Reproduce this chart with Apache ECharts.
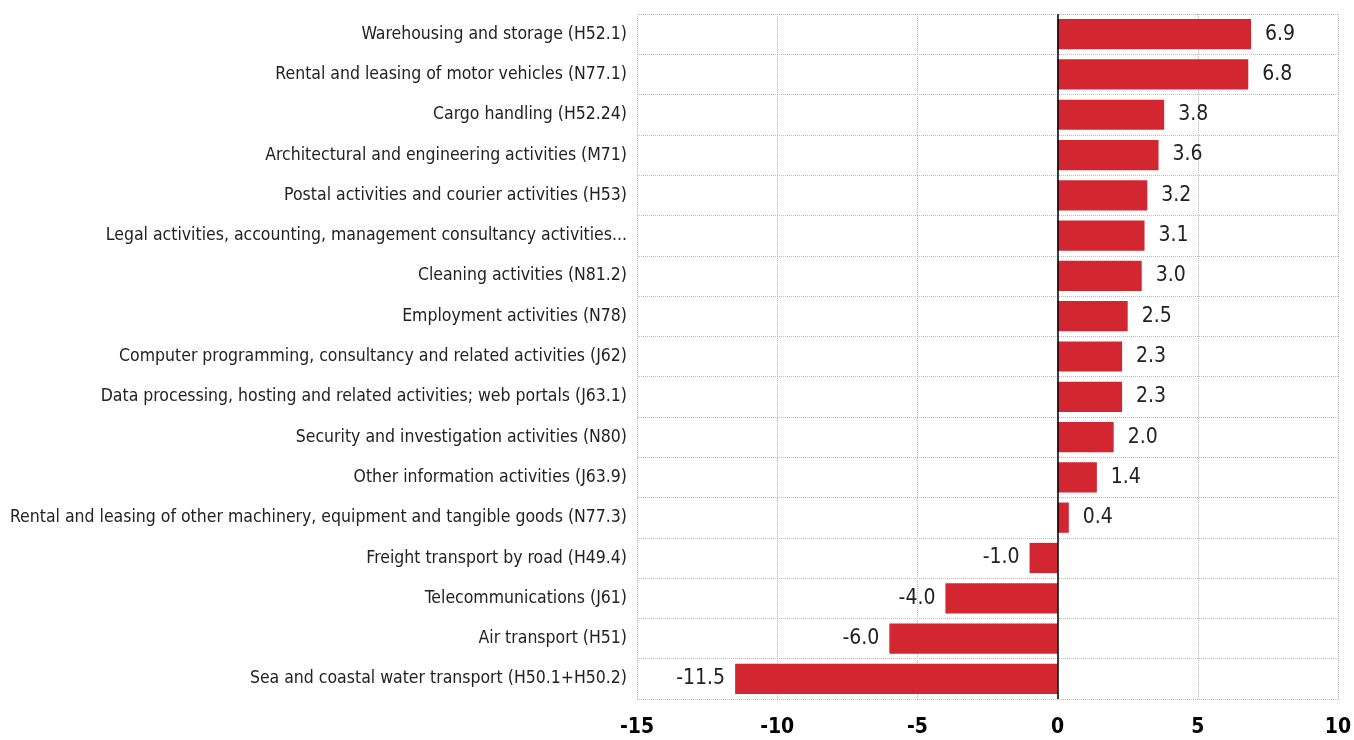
<!DOCTYPE html>
<html>
<head>
<meta charset="utf-8">
<script src="https://cdn.jsdelivr.net/npm/echarts@6/dist/echarts.min.js"></script>
<style>
  html, body { margin: 0; padding: 0; background: #fff; }
  #chart { width: 1354px; height: 740px; }
</style>
</head>
<body>
<div id="chart"></div>
<script>
const categories = [
  'Warehousing and storage (H52.1)',
  'Rental and leasing of motor vehicles (N77.1)',
  'Cargo handling (H52.24)',
  'Architectural and engineering activities (M71)',
  'Postal activities and courier activities (H53)',
  'Legal activities, accounting, management consultancy activities...',
  'Cleaning activities (N81.2)',
  'Employment activities (N78)',
  'Computer programming, consultancy and related activities (J62)',
  'Data processing, hosting and related activities; web portals (J63.1)',
  'Security and investigation activities (N80)',
  'Other information activities (J63.9)',
  'Rental and leasing of other machinery, equipment and tangible goods (N77.3)',
  'Freight transport by road (H49.4)',
  'Telecommunications (J61)',
  'Air transport (H51)',
  'Sea and coastal water transport (H50.1+H50.2)'
]
const values = [6.9, 6.8, 3.8, 3.6, 3.2, 3.1, 3.0, 2.5, 2.3, 2.3, 2.0, 1.4, 0.4, -1.0, -4.0, -6.0, -11.5]

const FONT = "'DejaVu Sans Condensed', 'Liberation Sans Narrow', 'Liberation Sans', sans-serif"
const chart = echarts.init(document.getElementById('chart'))

const option = {
  animation: false,
  grid: { left: 637, right: 16, top: 14, bottom: 41, outerBoundsMode: 'none' },
  xAxis: {
    type: 'value',
    min: -15,
    max: 10,
    interval: 5,
    axisLine: { show: false },
    axisTick: { show: false },
    axisLabel: {
      margin: 18,
      fontFamily: FONT,
      fontSize: 21,
      fontWeight: 'bold',
      color: '#000'
    },
    splitLine: { show: true, lineStyle: { type: 'dotted', color: '#bcbcbc', width: 1 } }
  },
  yAxis: {
    type: 'category',
    data: categories,
    inverse: true,
    axisLine: { show: false },
    axisTick: { show: false },
    axisLabel: {
      margin: 10,
      fontFamily: FONT,
      fontSize: 17.5,
      color: '#222'
    },
    splitLine: { show: true, lineStyle: { type: 'dotted', color: '#bcbcbc', width: 1 } }
  },
  series: [
    {
      type: 'bar',
      barCategoryGap: '25%',
      // 负值标签放在左边
      data: values.map(v => ({
        value: v,
        label: { position: v < 0 ? 'left' : 'right', distance: v < 0 ? 10 : 14 }
      })),
      itemStyle: { color: '#d22630' },
      label: {
        show: true,
        fontFamily: FONT,
        fontSize: 21,
        color: '#222',
        formatter: p => p.value.toFixed(1)
      },
      markLine: {
        silent: true,
        symbol: 'none',
        label: { show: false },
        lineStyle: { color: '#000', type: 'solid', width: 1.5 },
        data: [{ xAxis: 0 }]
      }
    }
  ]
}

chart.setOption(option)
window.addEventListener('resize', () => chart.resize())
</script>
</body>
</html>
